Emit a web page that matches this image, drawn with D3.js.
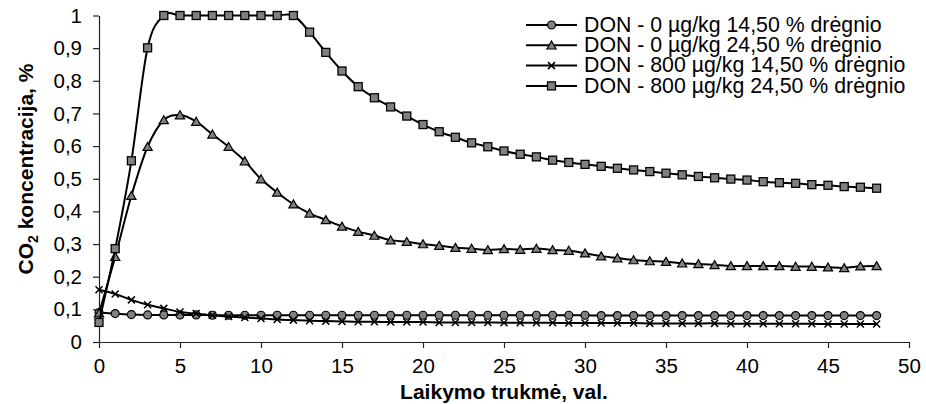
<!DOCTYPE html>
<html>
<head>
<meta charset="utf-8">
<script src="https://cdn.jsdelivr.net/npm/d3@7/dist/d3.min.js"></script>
<style>
  html, body { margin: 0; padding: 0; background: #fff; }
  svg { display: block; font-family: "Liberation Sans", Arial, sans-serif; }
</style>
</head>
<body>
<svg id="chart" width="926" height="404"></svg>
<script>
// Storage time, hours
const hours = [0,1,2,3,4,5,6,7,8,9,10,11,12,13,14,15,16,17,18,19,20,21,22,23,24,
  25,26,27,28,29,30,31,32,33,34,35,36,37,38,39,40,41,42,43,44,45,46,47,48];

const seriesNames = [
  "DON - 0 µg/kg 14,50 % drėgnio",
  "DON - 0 µg/kg 24,50 % drėgnio",
  "DON - 800 µg/kg 14,50 % drėgnio",
  "DON - 800 µg/kg 24,50 % drėgnio"
];

// CO2 concentration, %
const don0m14 = [0.090,0.087,0.084,0.083,0.083,0.083,0.083,0.082,0.082,0.082,
  0.082,0.082,0.082,0.082,0.082,0.082,0.082,0.082,0.082,0.082,
  0.082,0.082,0.082,0.082,0.082,0.082,0.082,0.082,0.082,0.082,
  0.082,0.081,0.081,0.081,0.081,0.081,0.081,0.081,0.081,0.081,
  0.081,0.081,0.081,0.081,0.081,0.081,0.081,0.081,0.081];

const don0m24 = [0.088,0.261,0.448,0.598,0.680,0.695,0.675,0.636,0.598,0.554,
  0.499,0.458,0.422,0.394,0.374,0.354,0.338,0.326,0.312,0.307,
  0.300,0.295,0.289,0.286,0.282,0.285,0.283,0.286,0.282,0.280,
  0.272,0.263,0.257,0.251,0.248,0.246,0.241,0.239,0.236,0.233,
  0.233,0.233,0.233,0.231,0.231,0.229,0.227,0.232,0.233];

const don800m14 = [0.160,0.147,0.129,0.114,0.103,0.092,0.087,0.082,0.078,0.075,
  0.072,0.069,0.067,0.065,0.064,0.063,0.062,0.062,0.061,0.061,
  0.061,0.060,0.060,0.060,0.060,0.059,0.059,0.059,0.059,0.058,
  0.058,0.058,0.058,0.058,0.057,0.057,0.057,0.057,0.057,0.056,
  0.056,0.056,0.056,0.056,0.056,0.055,0.055,0.055,0.055];

const don800m24 = [0.060,0.286,0.555,0.901,1.000,1.000,1.000,1.000,1.000,1.000,
  1.000,1.000,1.000,0.949,0.887,0.830,0.782,0.748,0.720,0.692,
  0.666,0.644,0.627,0.610,0.598,0.585,0.575,0.567,0.557,0.550,
  0.544,0.538,0.532,0.527,0.522,0.517,0.512,0.507,0.503,0.499,
  0.496,0.491,0.488,0.486,0.482,0.480,0.476,0.474,0.471];

const xTicks = [0,5,10,15,20,25,30,35,40,45,50];
const yTicks = [0,0.1,0.2,0.3,0.4,0.5,0.6,0.7,0.8,0.9,1];
const markerKinds = ["circle","triangle","cross","square"];
const seriesValues = [don0m14, don0m24, don800m14, don800m24];

const svg = d3.select("#chart");
const plotLeft = 99, plotRight = 909, plotTop = 15.5, plotBottom = 342;

const x = d3.scaleLinear().domain([0, 50]).range([plotLeft, plotRight]);
const y = d3.scaleLinear().domain([0, 1]).range([plotBottom, plotTop]);

const fmt = v => String(+v.toFixed(1)).replace(".", ",");

// axes
const gx = svg.append("g").attr("transform", `translate(0,${plotBottom})`)
  .call(d3.axisBottom(x).tickValues(xTicks).tickSize(6).tickPadding(10).tickSizeOuter(0)
        .tickFormat(d => d));
const gy = svg.append("g").attr("transform", `translate(${plotLeft},0)`)
  .call(d3.axisLeft(y).tickValues(yTicks).tickSize(6).tickPadding(11).tickSizeOuter(0)
        .tickFormat(fmt));
[gx, gy].forEach(g => {
  g.select(".domain").attr("stroke", "#222").attr("stroke-width", 1.2);
  g.selectAll(".tick line").attr("stroke", "#222").attr("stroke-width", 1.2);
  g.selectAll(".tick text").attr("font-size", 20.5).attr("fill", "#000")
    .attr("font-family", "Liberation Sans, Arial, sans-serif");
});

// axis titles
svg.append("text")
  .attr("x", 504).attr("y", 399)
  .attr("text-anchor", "middle")
  .attr("font-weight", "bold").attr("font-size", 21)
  .text("Laikymo trukmė, val.");

const yt = svg.append("text")
  .attr("transform", "translate(33,169) rotate(-90)")
  .attr("text-anchor", "middle")
  .attr("font-weight", "bold").attr("font-size", 21);
yt.append("tspan").text("CO");
yt.append("tspan").attr("font-size", 14).attr("dy", 5).text("2");
yt.append("tspan").attr("dy", -5).text(" koncentracija, %");

// marker drawing
function drawMarker(g, kind, cx, cy) {
  if (kind === "circle") {
    g.append("circle").attr("cx", cx).attr("cy", cy).attr("r", 4)
      .attr("fill", "#808080").attr("stroke", "#000").attr("stroke-width", 1.2);
  } else if (kind === "square") {
    g.append("rect").attr("x", cx - 4).attr("y", cy - 4).attr("width", 8).attr("height", 8)
      .attr("fill", "#808080").attr("stroke", "#000").attr("stroke-width", 1.3);
  } else if (kind === "triangle") {
    g.append("path")
      .attr("d", `M${cx},${cy - 4.3}L${cx + 4.6},${cy + 3.7}L${cx - 4.6},${cy + 3.7}Z`)
      .attr("fill", "#808080").attr("stroke", "#000").attr("stroke-width", 1.2)
      .attr("stroke-linejoin", "miter");
  } else {
    g.append("path")
      .attr("d", `M${cx - 3.5},${cy - 3.5}L${cx + 3.5},${cy + 3.5}M${cx - 3.5},${cy + 3.5}L${cx + 3.5},${cy - 3.5}`)
      .attr("stroke", "#000").attr("stroke-width", 1.5).attr("fill", "none");
  }
}

const line = d3.line()
  .x((d, i) => x(hours[i]))
  .y(d => y(d))
  .curve(d3.curveCardinal.tension(0));

const plot = svg.append("g");
seriesValues.forEach((vals, si) => {
  const g = plot.append("g");
  g.append("path").datum(vals).attr("d", line)
    .attr("fill", "none").attr("stroke", "#000").attr("stroke-width", 2);
  vals.forEach((v, i) => drawMarker(g, markerKinds[si], x(hours[i]), y(v)));
});

// legend
const legend = svg.append("g");
seriesNames.forEach((name, i) => {
  const ly = 25 + i * 20.3;
  legend.append("line").attr("x1", 526).attr("x2", 577).attr("y1", ly).attr("y2", ly)
    .attr("stroke", "#000").attr("stroke-width", 2);
  drawMarker(legend, markerKinds[i], 551.5, ly);
  legend.append("text").attr("x", 584).attr("y", ly + 6.6)
    .attr("font-size", 21.3).text(name);
});
</script>
</body>
</html>
